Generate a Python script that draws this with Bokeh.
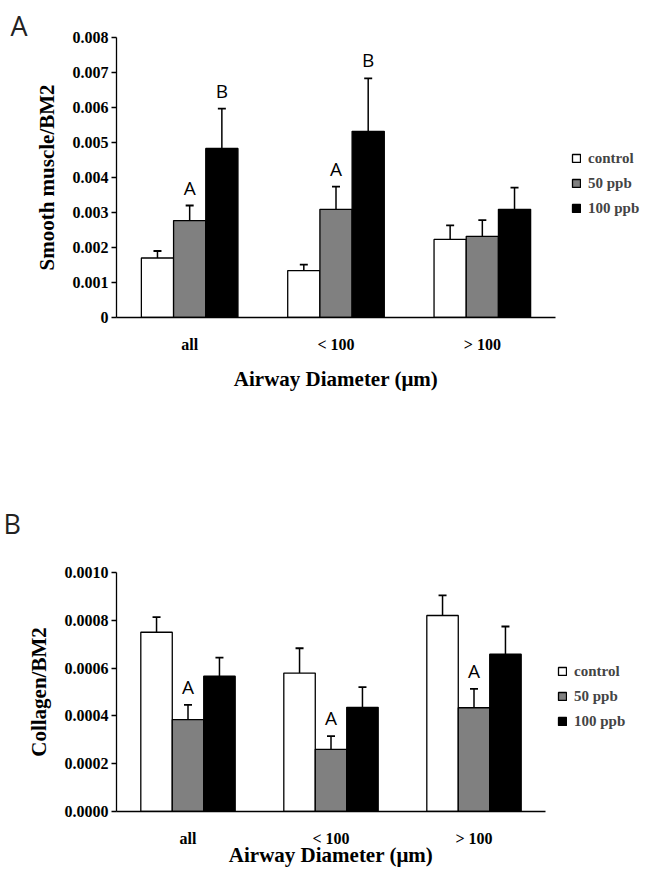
from bokeh.plotting import figure
from bokeh.models import (ColumnDataSource, Range1d, FactorRange, FixedTicker, NumeralTickFormatter,
                          Legend, LegendItem, Label)
from bokeh.transform import dodge
from bokeh.layouts import column
from bokeh.core.properties import value
from bokeh.embed import file_html
from bokeh.resources import INLINE

# ---------------- data ----------------
categories = ["all", "< 100", "> 100"]
series = ["control", "50 ppb", "100 ppb"]

# Panel A: Smooth muscle/BM2 (mean, upper error)
a_control = [0.00170, 0.00134, 0.00223]
a_control_err = [0.00020, 0.00017, 0.00040]
a_50 = [0.00277, 0.00309, 0.00232]
a_50_err = [0.00043, 0.00065, 0.00046]
a_100 = [0.00483, 0.00532, 0.00309]
a_100_err = [0.00114, 0.00151, 0.00062]
a_letters_control = ["", "", ""]
a_letters_50 = ["A", "A", ""]
a_letters_100 = ["B", "B", ""]
a_ticks = [0, 0.001, 0.002, 0.003, 0.004, 0.005, 0.006, 0.007, 0.008]

# Panel B: Collagen/BM2
b_control = [0.000750, 0.000579, 0.000820]
b_control_err = [0.000063, 0.000104, 0.000084]
b_50 = [0.000384, 0.000260, 0.000434]
b_50_err = [0.000062, 0.000055, 0.000079]
b_100 = [0.000566, 0.000436, 0.000658]
b_100_err = [0.000078, 0.000084, 0.000116]
b_letters_control = ["", "", ""]
b_letters_50 = ["A", "A", "A"]
b_letters_100 = ["", "", ""]
b_ticks = [0, 0.0002, 0.0004, 0.0006, 0.0008, 0.0010]

fills = ["white", "#808080", "black"]
offsets = [-0.22, 0.0, 0.22]
SERIF = "Liberation Serif"


def make_panel(letter, ylabel, means, errs, letters, ticks, ymax, fmt, overrides,
               frame_w, frame_h, b_left, b_top, b_bottom, width, letter_xy, legend_xy):
    p = figure(x_range=FactorRange(*categories), y_range=Range1d(0, ymax),
               frame_width=frame_w, frame_height=frame_h, title=None,
               min_border_left=b_left, min_border_top=b_top, min_border_bottom=b_bottom,
               min_border_right=width - b_left - frame_w,
               output_backend="svg", toolbar_location=None, tools="")
    p.outline_line_color = None
    p.xgrid.grid_line_color = None
    p.ygrid.grid_line_color = None
    p.background_fill_color = "white"

    items = []
    for i, name in enumerate(series):
        src = ColumnDataSource(dict(cat=categories, top=means[i],
                                    upper=[m + e for m, e in zip(means[i], errs[i])],
                                    lab=letters[i]))
        x = dodge("cat", offsets[i], range=p.x_range)
        r = p.vbar(x=x, top="top", width=0.22, source=src, fill_color=fills[i],
                   line_color="black", line_width=1.3)
        p.segment(x0=x, y0="top", x1=x, y1="upper", source=src, line_color="black", line_width=1.5)
        p.scatter(x=x, y="upper", source=src, marker="dash", size=8, line_color="black", line_width=1.8)
        p.text(x=x, y="upper", text="lab", source=src, text_align="center",
               text_baseline="bottom", y_offset=-5, text_font=value("Open Sans"),
               text_font_size="19px", text_color="black")
        items.append(LegendItem(label=name, renderers=[r]))

    legend = Legend(items=items, location=legend_xy, glyph_width=10, glyph_height=10,
                    label_height=20, spacing=5, padding=0, margin=0, label_standoff=7,
                    label_text_font=SERIF, label_text_font_style="bold", label_text_font_size="15px",
                    background_fill_alpha=0, border_line_alpha=0)
    p.add_layout(legend, "right")

    # panel letter
    p.add_layout(Label(x=letter_xy[0], y=letter_xy[1], x_units="screen", y_units="screen",
                       text=letter, text_font="Open Sans", text_font_size="27px",
                       text_color="#222222", text_baseline="alphabetic"), "above")

    # axes
    p.yaxis.ticker = FixedTicker(ticks=ticks)
    p.yaxis.formatter = NumeralTickFormatter(format=fmt)
    if overrides:
        p.yaxis.major_label_overrides = overrides
    p.yaxis.minor_tick_line_color = None
    p.yaxis.major_tick_out = 5
    p.yaxis.major_tick_in = 0
    p.yaxis.major_label_standoff = 3
    p.yaxis.axis_label = ylabel
    p.yaxis.axis_label_standoff = 11
    p.xaxis.axis_label = "Airway Diameter (\u03bcm)"
    p.xaxis.major_tick_line_color = None
    p.xaxis.minor_tick_line_color = None
    for ax in (p.xaxis, p.yaxis):
        ax.axis_line_color = "black"
        ax.axis_line_width = 1.3
        ax.major_tick_line_width = 1.3
        ax.major_label_text_font = SERIF
        ax.major_label_text_font_style = "bold"
        ax.major_label_text_font_size = "16px"
        ax.major_label_text_color = "black"
        ax.axis_label_text_font = SERIF
        ax.axis_label_text_font_style = "bold"
        ax.axis_label_text_font_size = "21px"
        ax.axis_label_text_color = "black"
    return p


pA = make_panel("A", "Smooth muscle/BM2",
                [a_control, a_50, a_100], [a_control_err, a_50_err, a_100_err],
                [a_letters_control, a_letters_50, a_letters_100], a_ticks, 0.008, "0.000", {0: "0"},
                frame_w=439, frame_h=280, b_left=110, b_top=33, b_bottom=169, width=640,
                letter_xy=(-106, 12), legend_xy=(16, 99))
pA.xaxis.major_label_standoff = 12
pA.xaxis.axis_label_standoff = 11

pB = make_panel("B", "Collagen/BM2",
                [b_control, b_50, b_100], [b_control_err, b_50_err, b_100_err],
                [b_letters_control, b_letters_50, b_letters_100], b_ticks, 0.0010, "0.0000", None,
                frame_w=429, frame_h=239, b_left=116, b_top=86, b_bottom=74, width=640,
                letter_xy=(-113, 49), legend_xy=(12, 80))
pB.xaxis.major_label_standoff = 12
pB.xaxis.axis_label_standoff = -7

layout = column(pA, pB, spacing=0)
open("out.html", "w").write(file_html(layout, INLINE))
